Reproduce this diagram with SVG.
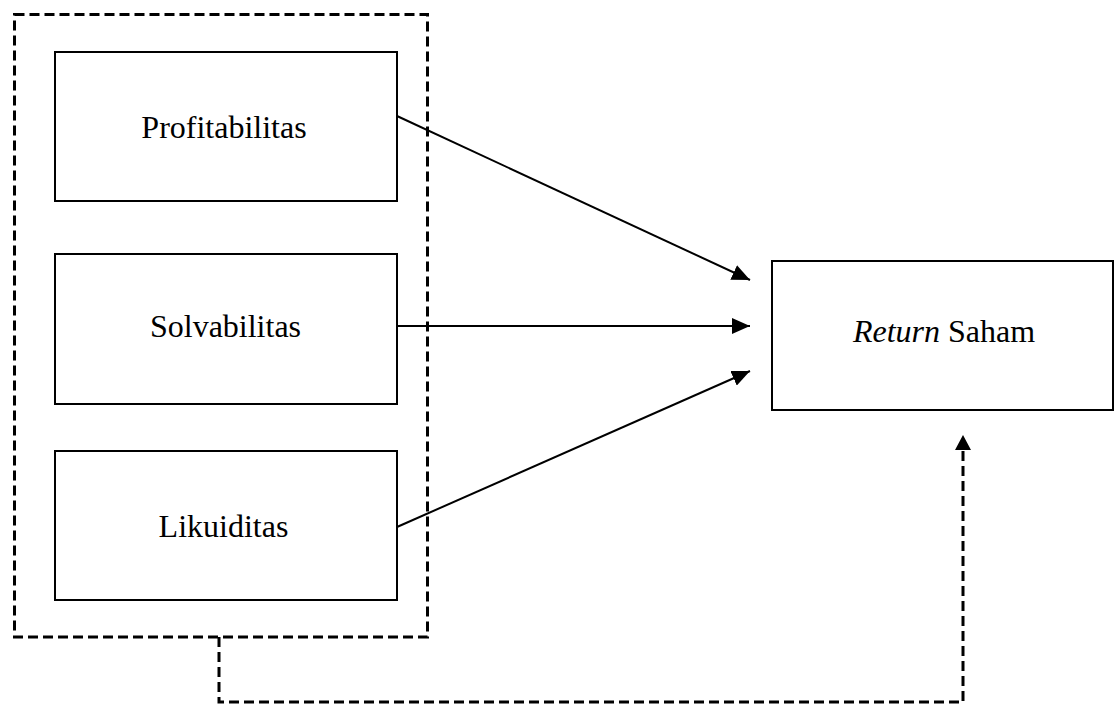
<svg xmlns="http://www.w3.org/2000/svg" width="1114" height="704" viewBox="0 0 1114 704">
<style>
.box{fill:#fff;stroke:#000;stroke-width:2}
.dash{fill:none;stroke:#000;stroke-width:3;stroke-dasharray:10 5}
.lbl{font-family:"Liberation Serif","Times New Roman",serif;font-size:32px;fill:#000;text-anchor:middle}
.conn{stroke:#000;stroke-width:2;fill:none}
</style>
<defs>
<marker id="ah" markerWidth="18" markerHeight="16" refX="18" refY="8" orient="auto" markerUnits="userSpaceOnUse">
<path d="M0,0 L18,8 L0,16 Z" fill="#000"/>
</marker>
</defs>
<rect width="1114" height="704" fill="#fff"/>
<g id="group-outline">
<rect class="dash" x="14.5" y="14.5" width="413" height="622.5"/>
</g>
<g id="profitabilitas">
<rect class="box" x="55" y="52" width="342" height="149"/>
<text class="lbl" x="224" y="138">Profitabilitas</text>
</g>
<g id="solvabilitas">
<rect class="box" x="55" y="254" width="342" height="150"/>
<text class="lbl" x="225.5" y="337">Solvabilitas</text>
</g>
<g id="likuiditas">
<rect class="box" x="55" y="451" width="342" height="149"/>
<text class="lbl" x="223.5" y="537">Likuiditas</text>
</g>
<g id="return-saham">
<rect class="box" x="772" y="261" width="341" height="149"/>
<text class="lbl" x="944" y="342"><tspan font-style="italic">Return</tspan> Saham</text>
</g>
<g id="connectors">
<line class="conn" x1="397" y1="116" x2="750" y2="280" marker-end="url(#ah)"/>
<line class="conn" x1="397" y1="326" x2="750" y2="326" marker-end="url(#ah)"/>
<line class="conn" x1="397" y1="527" x2="750" y2="371" marker-end="url(#ah)"/>
<path class="dash" d="M219,637 V702 H963 V450"/>
<path d="M955,450 L963,435 L971,450 Z" fill="#000"/>
</g>
</svg>
